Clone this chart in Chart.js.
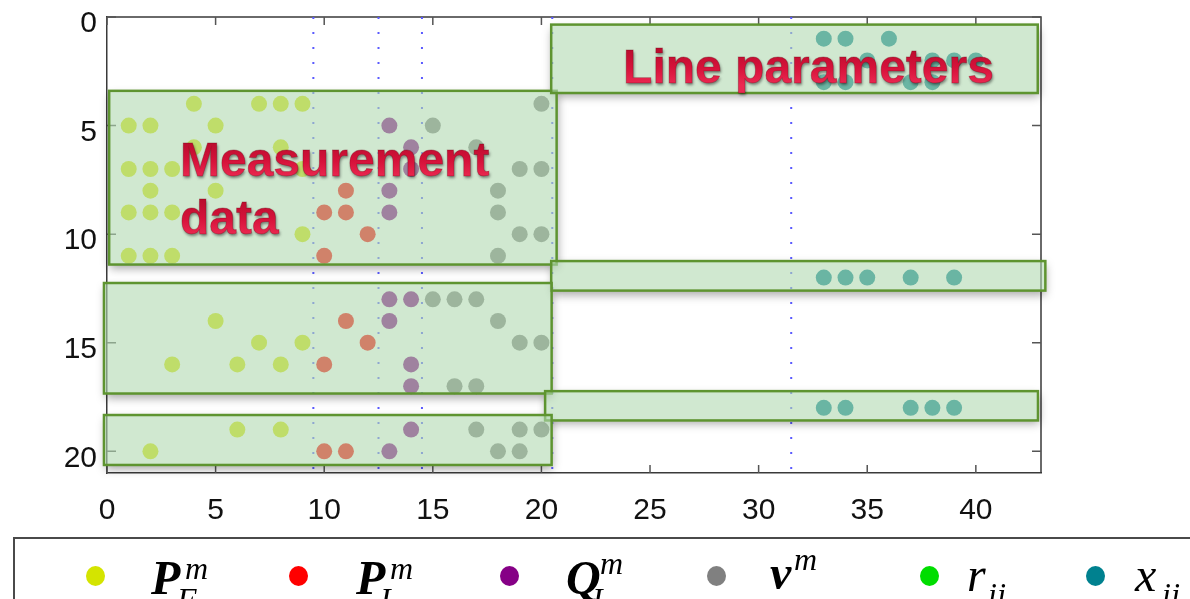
<!DOCTYPE html>
<html>
<head>
<meta charset="utf-8">
<script src="https://cdn.jsdelivr.net/npm/chart.js@4.4.1/dist/chart.umd.min.js"></script>
<style>
  html, body { margin: 0; padding: 0; background: #fff; }
  #wrap { position: relative; width: 1190px; height: 599px; overflow: hidden; }
  #chart { position: absolute; left: 0; top: 0; }
  #legendBox { position: absolute; left: 13px; top: 537px; width: 1300px; height: 120px;
               border-top: 2px solid #4a4a4a; border-left: 2px solid #4a4a4a; }
  .dot { position: absolute; width: 19px; height: 20px; border-radius: 50%; }
  .mt { position: absolute; font-family: 'Liberation Serif', 'DejaVu Serif', serif; font-style: italic;
        line-height: 1; white-space: nowrap; color: #000; }
</style>
</head>
<body>
<div id="wrap">
  <canvas id="chart" width="1190" height="599"></canvas>
  <div id="legendBox"></div>
</div>
<script>
// --- data: row (y) -> columns (x) for each series ---
const pfRows = { 4: [4, 7, 8, 9], 5: [1, 2, 5], 6: [4, 8], 7: [1, 2, 3, 9], 8: [2, 5], 9: [1, 2, 3],
                 10: [9], 11: [1, 2, 3], 14: [5], 15: [7, 9], 16: [3, 6, 8], 19: [6, 8], 20: [2] };
const piRows = { 8: [11], 9: [10, 11], 10: [12], 11: [10], 14: [11], 15: [12], 16: [10], 20: [10, 11] };
const qiRows = { 5: [13], 6: [14], 7: [14], 8: [13], 9: [13], 13: [13, 14], 14: [13], 16: [14],
                 17: [14], 19: [14], 20: [13] };
const vRows  = { 4: [20], 5: [15], 6: [17], 7: [19, 20], 8: [18], 9: [18], 10: [19, 20], 11: [18],
                 13: [15, 16, 17], 14: [18], 15: [19, 20], 17: [16, 17], 19: [17, 19, 20], 20: [18, 19] };
const rRows  = {};
const xRows  = { 1: [33, 34, 36], 2: [35, 38, 39, 40], 3: [33, 34, 37, 38], 12: [33, 34, 35, 37, 39],
                 18: [33, 34, 37, 38, 39] };

const seriesColors = ['#d4e400', '#ff0000', '#860086', '#808080', '#00dd00', '#00818f'];
const seriesLabels = [
  { base: 'P', bold: true,  sup: 'm', sub: 'F' },
  { base: 'P', bold: true,  sup: 'm', sub: 'I' },
  { base: 'Q', bold: true,  sup: 'm', sub: 'I' },
  { base: 'v', bold: true,  sup: 'm', sub: '' },
  { base: 'r', bold: false, sup: '',  sub: 'ij' },
  { base: 'x', bold: false, sup: '',  sub: 'ij' }
];
const xTickValues = [0, 5, 10, 15, 20, 25, 30, 35, 40];
const yTickValues = [0, 5, 10, 15, 20];
const dividerX = [9.5, 12.5, 14.5, 20.5, 31.5];

// annotation boxes (data units: x0, x1, y0, y1) and captions
const groupBoxes = [
  [0.1, 20.7, 3.4, 11.4],
  [20.45, 42.85, 0.35, 3.5],
  [20.45, 43.2, 11.24, 12.6],
  [-0.14, 20.47, 12.25, 17.34],
  [20.17, 42.86, 17.23, 18.58],
  [-0.14, 20.47, 18.33, 20.63]
];
const captions = [
  { text: 'Measurement', x: 3.36, y: 7.34 },
  { text: 'data', x: 3.36, y: 9.98 },
  { text: 'Line parameters', x: 23.76, y: 3.03 }
];

function toPoints(rows) {
  const pts = [];
  Object.keys(rows).forEach(r => rows[r].forEach(c => pts.push({ x: c, y: Number(r) })));
  return pts;
}

const pointSets = [pfRows, piRows, qiRows, vRows, rRows, xRows].map((rows, i) => ({
  label: seriesLabels[i].base,
  data: toPoints(rows),
  backgroundColor: seriesColors[i],
  borderWidth: 0,
  pointRadius: 8,
  pointHoverRadius: 8,
  order: 0
}));

const dividerSets = dividerX.map(v => ({
  label: 'div',
  data: [{ x: v, y: 0 }, { x: v, y: 21 }],
  showLine: true,
  pointRadius: 0,
  borderColor: '#5a5aff',
  borderWidth: 2,
  borderDash: [2, 13],
  order: 10
}));

const tickFont = { family: "'Liberation Sans', Arial, sans-serif", size: 30, lineHeight: 1 };

const overlayPlugin = {
  id: 'overlay',
  beforeDatasetsDraw(chart) {
    const { ctx, chartArea: a, scales: { x, y } } = chart;
    ctx.save();
    ctx.strokeStyle = '#3a3a3a';
    ctx.lineWidth = 1.5;
    ctx.beginPath();
    ctx.moveTo(a.left, a.top);
    ctx.lineTo(a.right, a.top);
    ctx.lineTo(a.right, a.bottom);
    ctx.stroke();

    // inward ticks on all four sides
    ctx.strokeStyle = '#555';
    ctx.beginPath();
    x.ticks.forEach(t => {
      const px = x.getPixelForValue(t.value);
      ctx.moveTo(px, a.bottom); ctx.lineTo(px, a.bottom - 8);
      ctx.moveTo(px, a.top); ctx.lineTo(px, a.top + 8);
    });
    y.ticks.forEach(t => {
      const py = y.getPixelForValue(t.value);
      ctx.moveTo(a.left, py); ctx.lineTo(a.left + 9, py);
      ctx.moveTo(a.right, py); ctx.lineTo(a.right - 9, py);
    });
    ctx.stroke();
    ctx.restore();
  },
  afterDatasetsDraw(chart) {
    const { ctx, scales: { x, y } } = chart;
    const rects = groupBoxes.map(b => {
      const l = x.getPixelForValue(b[0]), r = x.getPixelForValue(b[1]);
      const t = y.getPixelForValue(b[2]), btm = y.getPixelForValue(b[3]);
      return [l, t, r - l, btm - t];
    });

    // soft drop shadows, kept outside each box
    rects.forEach(rc => {
      ctx.save();
      ctx.beginPath();
      ctx.rect(0, 0, chart.width, chart.height);
      ctx.rect(rc[0], rc[1], rc[2], rc[3]);
      ctx.clip('evenodd');
      ctx.shadowColor = 'rgba(0,0,0,0.35)';
      ctx.shadowBlur = 9;
      ctx.shadowOffsetX = 1;
      ctx.shadowOffsetY = 4;
      ctx.fillStyle = '#000';
      ctx.fillRect(rc[0], rc[1], rc[2], rc[3]);
      ctx.restore();
    });

    ctx.save();
    rects.forEach(rc => {
      ctx.fillStyle = 'rgba(177,217,177,0.6)';
      ctx.fillRect(rc[0], rc[1], rc[2], rc[3]);
      ctx.strokeStyle = '#5e9430';
      ctx.lineWidth = 2.5;
      ctx.strokeRect(rc[0], rc[1], rc[2], rc[3]);
    });
    ctx.restore();

    // captions
    ctx.save();
    ctx.font = "bold 48px 'Liberation Sans', Arial, sans-serif";
    ctx.textAlign = 'left';
    ctx.textBaseline = 'alphabetic';
    captions.forEach(c => {
      const px = x.getPixelForValue(c.x), py = y.getPixelForValue(c.y);
      const g = ctx.createLinearGradient(0, py - 36, 0, py + 2);
      g.addColorStop(0, '#b60c2c');
      g.addColorStop(0.55, '#d6123a');
      g.addColorStop(1, '#ec2a52');
      ctx.shadowColor = 'rgba(0,0,0,0.45)';
      ctx.shadowBlur = 3;
      ctx.shadowOffsetX = 1;
      ctx.shadowOffsetY = 2;
      ctx.fillStyle = g;
      ctx.fillText(c.text, px, py);
      ctx.shadowColor = 'transparent';
      ctx.strokeStyle = 'rgba(110,0,20,0.35)';
      ctx.lineWidth = 0.8;
      ctx.strokeText(c.text, px, py);
    });
    ctx.restore();
  }
};

new Chart(document.getElementById('chart'), {
  type: 'scatter',
  data: { datasets: pointSets.concat(dividerSets) },
  options: {
    responsive: false,
    animation: false,
    events: [],
    devicePixelRatio: 1,
    layout: { padding: { top: 17, right: 149, bottom: 0, left: 0 } },
    plugins: { legend: { display: false }, tooltip: { enabled: false } },
    scales: {
      x: {
        type: 'linear', min: 0, max: 43,
        afterBuildTicks: s => { s.ticks = xTickValues.map(v => ({ value: v })); },
        afterFit: s => { s.height = 126; s.paddingLeft = 0; s.paddingRight = 0; },
        ticks: { font: tickFont, color: '#111', padding: 23, maxRotation: 0, autoSkip: false },
        grid: { display: false, drawTicks: false },
        border: { display: true, color: '#3a3a3a', width: 1.5 }
      },
      y: {
        type: 'linear', min: 0, max: 21, reverse: true,
        afterBuildTicks: s => { s.ticks = yTickValues.map(v => ({ value: v })); },
        afterFit: s => { s.width = 107; s.paddingTop = 0; s.paddingBottom = 0; },
        ticks: { font: tickFont, color: '#111', padding: 10, labelOffset: 7, autoSkip: false },
        grid: { display: false, drawTicks: false },
        border: { display: true, color: '#3a3a3a', width: 1.5 }
      }
    }
  },
  plugins: [overlayPlugin]
});

// --- legend strip (math-style labels as real text) ---
const legendSpots = [
  { dot: 95,   base: 151,  baseY: 594, sup: 185, supY: 579, sub: 177, subY: 610 },
  { dot: 298,  base: 356,  baseY: 594, sup: 390, supY: 579, sub: 380, subY: 610 },
  { dot: 509,  base: 566,  baseY: 594, sup: 600, supY: 574, sub: 592, subY: 610 },
  { dot: 716,  base: 770,  baseY: 589, sup: 794, supY: 570, sub: 0,   subY: 0 },
  { dot: 929,  base: 967,  baseY: 591, sup: 0,   supY: 0,   sub: 988, subY: 605 },
  { dot: 1095, base: 1135, baseY: 591, sup: 0,   supY: 0,   sub: 1162, subY: 605 }
];
const wrap = document.getElementById('wrap');
function addText(txt, left, baseline, size, bold) {
  const s = document.createElement('span');
  s.className = 'mt';
  s.textContent = txt;
  s.style.fontSize = size + 'px';
  s.style.fontWeight = bold ? 'bold' : 'normal';
  s.style.left = left + 'px';
  s.style.top = (baseline - 0.8375 * size) + 'px';
  wrap.appendChild(s);
}
seriesLabels.forEach((lab, i) => {
  const p = legendSpots[i];
  const d = document.createElement('div');
  d.className = 'dot';
  d.style.background = seriesColors[i];
  d.style.left = (p.dot - 9.5) + 'px';
  d.style.top = (575.5 - 10) + 'px';
  wrap.appendChild(d);
  addText(lab.base, p.base, p.baseY, 48, lab.bold);
  if (lab.sup) addText(lab.sup, p.sup, p.supY, 32, false);
  if (lab.sub) addText(lab.sub, p.sub, p.subY, 32, false);
});
</script>
</body>
</html>
